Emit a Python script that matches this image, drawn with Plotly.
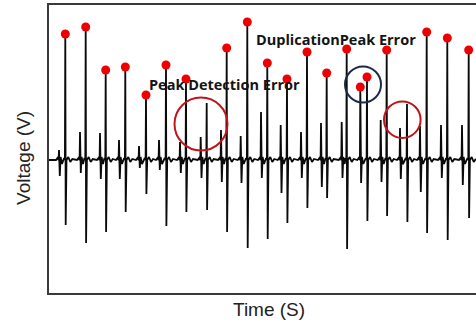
import plotly.graph_objects as go

# ---- data (time in s, voltage in V) ----
beat_t = [0.163, 0.367, 0.567, 0.763, 0.970, 1.170, 1.370, 1.577, 1.777, 1.983, 2.183,
          2.380, 2.580, 2.777, 2.977, 3.180, 3.377, 3.580, 3.777, 3.983, 4.197]
peak_v = [1.26, 1.33, 0.90, 0.93, 0.65, 0.95, 0.81, 0.57, 1.12, 1.38, 0.97,
          0.81, 1.08, 0.87, 1.11, 0.83, 1.10, 0.56, 1.28, 1.22, 1.10]
trough_v = [-0.65, -0.83, -0.72, -0.52, -0.34, -0.66, -0.52, -0.50, -0.72, -0.88, -0.79,
            -0.63, -0.48, -0.38, -0.89, -0.61, -0.56, -0.62, -0.73, -0.80, -0.58]
pre_t = [0.10, 0.31, 0.51, 0.70, 0.90, 1.10, 1.31, 1.517, 1.72, 1.917, 2.12,
         2.317, 2.52, 2.72, 2.927, 3.113, 3.317, 3.51, 3.71, 3.92, 4.13]
pre_up_v = [0.10, 0.28, 0.27, 0.20, 0.14, 0.20, 0.18, 0.23, 0.30, 0.24, 0.48,
            0.35, 0.28, 0.37, 0.38, 0.73, 0.40, 0.32, 0.34, 0.35, 0.35]
pre_down_v = [-0.16, -0.13, -0.19, -0.19, -0.08, -0.10, -0.13, -0.18, -0.22, -0.23, -0.18,
              -0.33, -0.18, -0.27, -0.18, -0.23, -0.22, -0.19, -0.32, -0.18, -0.25]
missed_beats = [7, 17]       # peaks not detected
duplicate_beats = [15]       # beats whose pre-spike was detected as an extra peak

x_range = [0, 4.27]
y_range = [-1.33, 1.55]

# ---- build waveform from beat table ----
t, v = [x_range[0]], [0.0]
for i in range(len(beat_t)):
    b, p = beat_t[i], pre_t[i]
    seg = [
        (p - 0.03, 0.0), (p - 0.015, 0.02), (p - 0.004, 0.0),
        (p, pre_up_v[i]), (p + 0.008, pre_down_v[i]), (p + 0.016, 0.03),
        (p + 0.03, -0.04), (b - 0.012, 0.02), (b - 0.004, 0.0),
        (b, peak_v[i]), (b + 0.004, trough_v[i]), (b + 0.012, 0.0),
        (b + 0.03, 0.03), (b + 0.05, -0.02), (b + 0.07, 0.01),
    ]
    for a, c in seg:
        t.append(a)
        v.append(c)
t.append(x_range[1])
v.append(0.0)

det_t, det_v = [], []
for i in range(len(beat_t)):
    if i in duplicate_beats:
        det_t.append(pre_t[i]); det_v.append(pre_up_v[i])
    if i not in missed_beats:
        det_t.append(beat_t[i]); det_v.append(peak_v[i])

fig = go.Figure()
fig.add_trace(go.Scatter(x=t, y=v, mode="lines",
                         line=dict(color="#0a0a0a", width=1.8),
                         hoverinfo="skip", showlegend=False))
fig.add_trace(go.Scatter(x=det_t, y=det_v, mode="markers",
                         marker=dict(color="#ee0000", size=9),
                         showlegend=False))

circle_red = "#c0141a"
fig.add_shape(type="circle", xref="x", yref="y", x0=1.255, x1=1.785, y0=0.095, y1=0.625,
              line=dict(color=circle_red, width=2))
fig.add_shape(type="circle", xref="x", yref="y", x0=3.35, x1=3.716, y0=0.22, y1=0.586,
              line=dict(color=circle_red, width=2))
fig.add_shape(type="circle", xref="x", yref="y", x0=2.96, x1=3.32, y0=0.575, y1=0.935,
              line=dict(color="#1c2a4a", width=2))

lab_font = dict(family="Open Sans", size=14.5, color="#141414", weight=700)
fig.add_annotation(x=1.75, y=0.76, xref="x", yref="y", text="Peak Detection Error",
                   showarrow=False, font=lab_font, xanchor="center", yanchor="middle")
fig.add_annotation(x=2.87, y=1.21, xref="x", yref="y", text="DuplicationPeak Error",
                   showarrow=False, font=lab_font, xanchor="center", yanchor="middle")

ax_font = dict(family="Liberation Sans, Arial", size=19, color="#222222")
fig.add_annotation(x=-0.0585, y=0.469, xref="paper", yref="paper", text="Voltage (V)",
                   textangle=-90, showarrow=False, font=ax_font,
                   xanchor="center", yanchor="middle")
fig.add_annotation(x=0.515, y=-0.059, xref="paper", yref="paper", text="Time (S)",
                   showarrow=False, font=ax_font, xanchor="center", yanchor="middle")

fig.update_xaxes(range=x_range, showline=True, mirror=True, linecolor="#3a3a3a", linewidth=2,
                 showticklabels=False, ticks="", showgrid=False, zeroline=False)
fig.update_yaxes(range=y_range, showline=True, mirror=False, linecolor="#3a3a3a", linewidth=2,
                 showticklabels=False, ticks="", showgrid=False, zeroline=False)
fig.update_layout(width=476, height=322, margin=dict(l=49, r=0, t=5, b=29),
                  paper_bgcolor="white", plot_bgcolor="white")

fig.write_html("out.html")
